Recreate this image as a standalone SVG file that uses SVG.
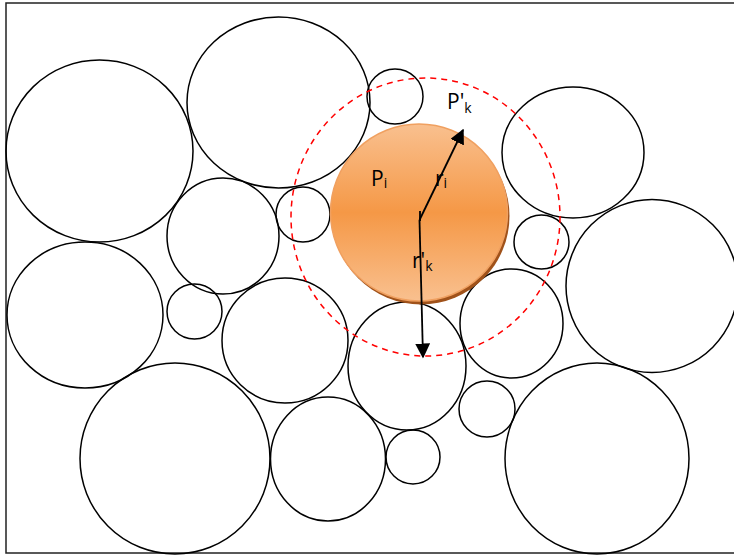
<svg xmlns="http://www.w3.org/2000/svg" width="734" height="555" viewBox="0 0 734 555">
<style>
.c{fill:none;stroke:#000;stroke-width:1.5}
.t{font-family:"Open Sans","Noto Sans",sans-serif;fill:#000}
.m{font-size:21px}
.s{font-size:14px}
</style>
<defs>
<linearGradient id="og" x1="0" y1="0" x2="0" y2="1">
<stop offset="0" stop-color="#f9c08f"/>
<stop offset="0.5" stop-color="#f59846"/>
<stop offset="1" stop-color="#f9c08f"/>
</linearGradient>
<marker id="ah" viewBox="0 0 10 10" refX="9" refY="5" markerWidth="15" markerHeight="15" markerUnits="userSpaceOnUse" orient="auto">
<path d="M0,0 L10,5 L0,10 Z" fill="#000"/>
</marker>
</defs>
<rect x="0" y="0" width="734" height="555" fill="#fff"/>
<rect x="6" y="3" width="740" height="550" fill="none" stroke="#222" stroke-width="1.5"/>
<g id="particles">
<ellipse id="n1" class="c" cx="99.5" cy="151" rx="93.5" ry="91"/>
<ellipse id="n2" class="c" cx="278.5" cy="102.5" rx="91.5" ry="85.5"/>
<ellipse id="n3" class="c" cx="395" cy="96.5" rx="28" ry="27.5"/>
<ellipse id="n4" class="c" cx="223" cy="236" rx="56" ry="58"/>
<ellipse id="n5" class="c" cx="303" cy="214.5" rx="27" ry="27.5"/>
<ellipse id="n6" class="c" cx="85" cy="315" rx="78" ry="73"/>
<ellipse id="n7" class="c" cx="194.5" cy="311.5" rx="27.5" ry="27.5"/>
<ellipse id="n8" class="c" cx="285" cy="340.5" rx="63" ry="62.5"/>
<ellipse id="n9" class="c" cx="175" cy="458.5" rx="95" ry="95.5"/>
<ellipse id="n10" class="c" cx="328" cy="459" rx="57.5" ry="62"/>
<ellipse id="n11" class="c" cx="413" cy="457" rx="27" ry="27"/>
<ellipse id="n12" class="c" cx="407" cy="366" rx="59" ry="64"/>
<ellipse id="n13" class="c" cx="511.5" cy="323.5" rx="51.5" ry="54.5"/>
<ellipse id="n14" class="c" cx="487" cy="409" rx="28" ry="28"/>
<ellipse id="n15" class="c" cx="597" cy="458.5" rx="92" ry="95.5"/>
<ellipse id="n16" class="c" cx="573" cy="152.5" rx="71" ry="65.5"/>
<ellipse id="n17" class="c" cx="541.5" cy="242" rx="27.5" ry="27"/>
<ellipse id="n18" class="c" cx="652" cy="286" rx="86" ry="86.5"/>
</g>
<g id="pi">
<circle cx="421" cy="216" r="88.5" fill="#a0521a"/>
<circle cx="419" cy="212.5" r="88.5" fill="url(#og)" stroke="#f0a060" stroke-width="1.5"/>
</g>
<g id="zone">
<ellipse cx="425.5" cy="217" rx="134.5" ry="139" fill="none" stroke="#ff0000" stroke-width="1.5" stroke-dasharray="6,5"/>
</g>
<g id="connectors" stroke="#000" stroke-width="1.8" fill="none">
<line x1="420" y1="211" x2="420" y2="221"/>
<line x1="419.5" y1="220" x2="463" y2="130" marker-end="url(#ah)"/>
<line x1="419.5" y1="220" x2="423" y2="357" marker-end="url(#ah)"/>
</g>
<g id="labels">
<text class="t m" x="447" y="109">P'<tspan class="s" dy="4">k</tspan></text>
<text class="t m" x="371" y="186">P<tspan class="s" dy="2">i</tspan></text>
<text class="t m" x="435" y="186">r<tspan class="s" dy="2">i</tspan></text>
<text class="t m" x="412" y="268">r'<tspan class="s" dy="3">k</tspan></text>
</g>
</svg>
